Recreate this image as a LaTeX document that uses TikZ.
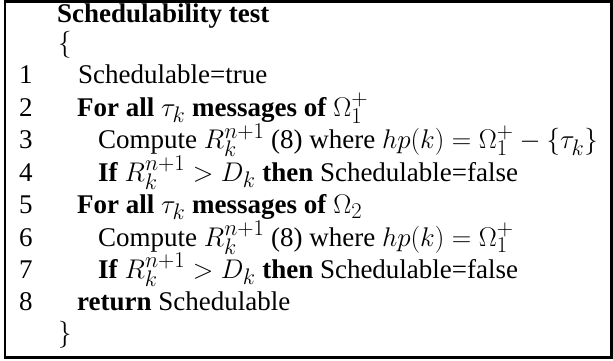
\documentclass[tikz,border=0pt]{standalone}
\usepackage[no-math]{fontspec}
\setmainfont{Liberation Serif}
\newcommand{\alg}[1]{\scalebox{1.085}{\fontsize{24.88}{30}\selectfont #1}}
\begin{document}
\begin{tikzpicture}[x=1pt,y=1pt,
  txt/.style={anchor=base west,inner sep=0pt},
  frame/.style={draw=black,line width=2.5pt}]
\useasboundingbox (0,-361) rectangle (613,0);
\draw[frame] (5,-1.3) rectangle (611.7,-357.6);
\node[txt] (t) at (57,-23) {\alg{\textbf{Schedulability test}}};
\node[txt] (ob) at (58,-52) {\alg{$\{$}};
\node[txt] (n1) at (19,-84) {\alg{1}};
\node[txt] (n2) at (19,-116.4) {\alg{2}};
\node[txt] (n3) at (19,-148.8) {\alg{3}};
\node[txt] (n4) at (19,-181.2) {\alg{4}};
\node[txt] (n5) at (19,-213.6) {\alg{5}};
\node[txt] (n6) at (19,-246) {\alg{6}};
\node[txt] (n7) at (19,-278.4) {\alg{7}};
\node[txt] (n8) at (19,-310.8) {\alg{8}};
\node[txt] (l1) at (78,-84) {\alg{Schedulable=true}};
\node[txt] (l2) at (77,-116.4) {\alg{\textbf{For all} $\tau_k$ \textbf{messages of} $\Omega_1^+$}};
\node[txt] (l3) at (98,-148.8) {\alg{Compute $R_k^{n+1}$ (8) where $hp(k)=\Omega_1^+-\{\tau_k\}$}};
\node[txt] (l4) at (98,-181.2) {\alg{\textbf{If} $R_k^{n+1}>D_k$ \textbf{then} Schedulable=false}};
\node[txt] (l5) at (77,-213.6) {\alg{\textbf{For all} $\tau_k$ \textbf{messages of} $\Omega_2$}};
\node[txt] (l6) at (98,-246) {\alg{Compute $R_k^{n+1}$ (8) where $hp(k)=\Omega_1^+$}};
\node[txt] (l7) at (98,-278.4) {\alg{\textbf{If} $R_k^{n+1}>D_k$ \textbf{then} Schedulable=false}};
\node[txt] (l8) at (77,-310.8) {\alg{\textbf{return} Schedulable}};
\node[txt] (cb) at (58,-341) {\alg{$\}$}};
\end{tikzpicture}
\end{document}
